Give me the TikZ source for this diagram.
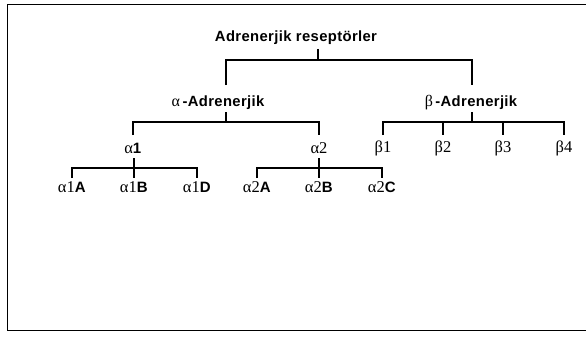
\documentclass[tikz,border=0pt]{standalone}
\usepackage{fontspec}
\setmainfont{Liberation Serif}
\setsansfont{Liberation Sans}[LetterSpace=2.5]
\newcommand\gk[1]{{\rmfamily\mdseries\fontsize{16}{18}\selectfont #1}}
\begin{document}
\begin{tikzpicture}[x=1pt,y=-1pt,
  lbl/.style={inner sep=0pt,font=\sffamily\bfseries\fontsize{14.8}{17}\selectfont},
  gr/.style={inner sep=0pt,font=\rmfamily\fontsize{16.5}{18}\selectfont},
  bar/.style={line width=1.7pt},
  frame/.style={line width=0.9pt}]
\useasboundingbox (0,0) rectangle (586,337);
\draw[frame] (586,4) -- (7,4) -- (7,330) -- (586,330);
% nodes
\node[lbl] (root) at (296,38) {Adrenerjik reseptörler};
\node[lbl] (a) at (218,103) {\gk{α}\,-Adrenerjik};
\node[lbl] (b) at (471,103) {\gk{β}\,-Adrenerjik};
\node[gr] (a1) at (133,148) {α\textsf{\bfseries\fontsize{15}{17}\selectfont 1}};
\node[gr] (a2) at (319,148) {α2};
\node[gr] (b1) at (383,148) {β1};
\node[gr] (b2) at (443,148) {β2};
\node[gr] (b3) at (503,148) {β3};
\node[gr] (b4) at (564,148) {β4};
\node[gr] (a1A) at (72,187) {α1\textsf{\bfseries\fontsize{15}{17}\selectfont A}};
\node[gr] (a1B) at (134,187) {α1\textsf{\bfseries\fontsize{15}{17}\selectfont B}};
\node[gr] (a1D) at (197,187) {α1\textsf{\bfseries\fontsize{15}{17}\selectfont D}};
\node[gr] (a2A) at (257,187) {α2\textsf{\bfseries\fontsize{15}{17}\selectfont A}};
\node[gr] (a2B) at (319,187) {α2\textsf{\bfseries\fontsize{15}{17}\selectfont B}};
\node[gr] (a2C) at (382,187) {α2\textsf{\bfseries\fontsize{15}{17}\selectfont C}};
% connectors
\coordinate (rj) at (318,60);
\draw[bar] (318,49) -- (rj);
\draw[bar] (226,85) -- (226,60) -- (472,60) -- (472,85);
\coordinate (aj) at (226,122);
\draw[bar] (226,112) -- (aj);
\draw[bar] (a1 |- 0,135) -- (a1 |- aj) -- (a2 |- aj) -- (a2 |- 0,135);
\coordinate (bj) at (472,122);
\draw[bar] (472,112) -- (bj);
\draw[bar] (b1 |- 0,135) -- (b1 |- bj) -- (b4 |- bj) -- (b4 |- 0,135);
\draw[bar] (b2 |- bj) -- (b2 |- 0,135);
\draw[bar] (b3 |- bj) -- (b3 |- 0,135);
\coordinate (a1j) at (134,168);
\draw[bar] (134,158) -- (134,178);
\draw[bar] (a1A |- 0,178) -- (a1A |- a1j) -- (a1D |- a1j) -- (a1D |- 0,178);
\coordinate (a2j) at (319,168);
\draw[bar] (319,158) -- (319,178);
\draw[bar] (a2A |- 0,178) -- (a2A |- a2j) -- (a2C |- a2j) -- (a2C |- 0,178);
\end{tikzpicture}
\end{document}
